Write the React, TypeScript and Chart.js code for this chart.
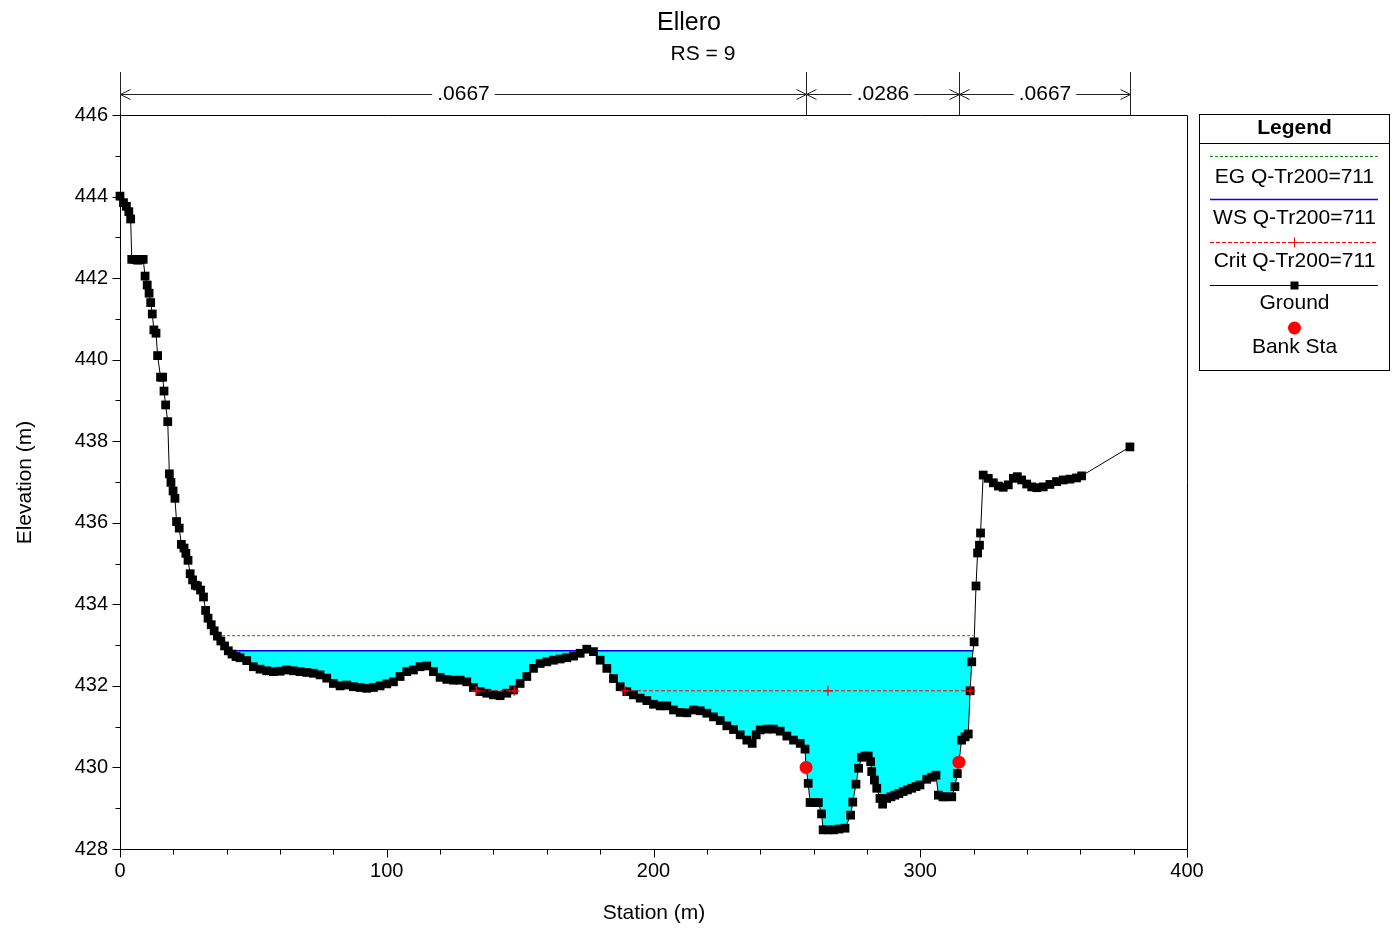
import React, { useEffect, useRef } from "react";
import { Chart, registerables } from "chart.js";

Chart.register(...registerables);

// ---------- data ----------
const groundStation = [
  0.0, 1.3, 2.4, 3.3, 4.0, 4.4, 5.6, 6.6, 7.6, 8.7, 9.4, 10.2, 10.9, 11.5, 12.1, 12.7, 13.5, 14.1, 15.2, 16.0,
  16.5, 17.1, 17.9, 18.5, 19.1, 19.9, 20.6, 21.2, 22.2, 23.0, 24.0, 24.7, 25.5, 26.3, 27.2, 28.2, 29.0, 30.2,
  31.3, 32.1, 33.0, 34.2, 35.3, 36.5, 37.8, 39.2, 40.6, 42.0, 43.5, 45.0, 47.5, 50.0, 52.5, 55.0, 57.5, 60.0,
  62.5, 65.0, 67.5, 70.0, 72.5, 75.0, 77.5, 80.0, 82.5, 85.0, 87.5, 90.0, 92.5, 95.0, 97.5, 100.0, 102.5,
  105.0, 107.5, 110.0, 112.5, 115.0, 117.5, 120.0, 122.5, 125.0, 127.5, 130.0, 132.5, 135.0, 137.5, 140.0,
  142.5, 145.0, 147.5, 150.0, 152.5, 155.0, 157.5, 160.0, 162.5, 165.0, 167.5, 170.0, 172.5, 175.0, 177.5,
  180.0, 182.5, 185.0, 187.5, 190.0, 192.5, 195.0, 197.5, 200.0, 202.5, 205.0, 207.5, 210.0, 212.5, 215.0,
  217.5, 220.0, 222.5, 225.0, 227.5, 230.0, 232.5, 235.0, 237.0, 238.5, 240.0, 242.5, 245.0, 247.5, 250.0,
  252.5, 255.0, 256.8, 257.2, 258.0, 258.7, 260.2, 261.8, 263.0, 263.6, 265.5, 267.5, 269.5, 271.8, 273.9,
  274.7, 275.9, 276.9, 278.0, 279.3, 280.5, 281.4, 281.8, 282.8, 283.7, 284.9, 285.9, 287.4, 289.0, 290.5,
  292.0, 293.6, 295.2, 296.8, 298.4, 299.9, 302.4, 304.2, 305.9, 306.8, 308.5, 309.3, 311.8, 313.0, 313.9,
  314.5, 315.5, 316.8, 318.0, 318.7, 319.3, 320.2, 320.9, 321.5, 322.2, 322.6, 323.6, 325.5, 327.4, 329.3,
  331.1, 333.0, 334.9, 336.4, 338.0, 339.9, 341.8, 343.7, 346.1, 348.6, 351.1, 353.6, 356.1, 358.6, 360.5,
  378.6,
];
const groundElev = [
  444.01, 443.85, 443.76, 443.63, 443.45, 442.46, 442.46, 442.44, 442.45, 442.46, 442.05, 441.83, 441.63,
  441.4, 441.12, 440.73, 440.65, 440.1, 439.57, 439.57, 439.23, 438.89, 438.48, 437.2, 436.99, 436.78, 436.6,
  436.03, 435.87, 435.47, 435.38, 435.25, 435.08, 434.75, 434.6, 434.47, 434.45, 434.35, 434.18, 433.85,
  433.66, 433.5, 433.35, 433.22, 433.1, 432.98, 432.86, 432.78, 432.72, 432.69, 432.62, 432.47, 432.41,
  432.37, 432.35, 432.36, 432.39, 432.37, 432.35, 432.33, 432.31, 432.27, 432.19, 432.06, 432.0, 432.02,
  431.98, 431.96, 431.94, 431.96, 432.0, 432.05, 432.1, 432.23, 432.35, 432.39, 432.47, 432.49, 432.35,
  432.21, 432.16, 432.14, 432.14, 432.1, 431.96, 431.86, 431.82, 431.78, 431.76, 431.82, 431.9, 432.06,
  432.23, 432.43, 432.55, 432.59, 432.63, 432.66, 432.69, 432.73, 432.8, 432.9, 432.84, 432.63, 432.43,
  432.18, 431.98, 431.86, 431.78, 431.7, 431.64, 431.55, 431.51, 431.51, 431.41, 431.35, 431.34, 431.41,
  431.39, 431.33, 431.24, 431.15, 431.02, 430.93, 430.8, 430.67, 430.59, 430.8, 430.92, 430.94, 430.94,
  430.89, 430.77, 430.67, 430.59, 430.45, 430.0, 429.61, 429.14, 429.14, 429.14, 428.86, 428.47, 428.47,
  428.47, 428.49, 428.51, 428.83, 429.15, 429.59, 429.98, 430.25, 430.28, 430.28, 430.14, 429.9, 429.69,
  429.49, 429.24, 429.1, 429.24, 429.28, 429.32, 429.36, 429.41, 429.45, 429.49, 429.53, 429.57, 429.71,
  429.76, 429.81, 429.32, 429.28, 429.28, 429.28, 429.53, 429.85, 430.13, 430.67, 430.75, 430.82, 431.88,
  432.59, 433.08, 434.45, 435.26, 435.45, 435.75, 437.17, 437.09, 436.98, 436.9, 436.87, 436.93, 437.09,
  437.13, 437.05, 436.95, 436.88, 436.86, 436.88, 436.94, 437.01, 437.05, 437.07, 437.1, 437.15, 437.86,
];
const bankStation = [257.2, 314.5];
const bankElev = [430.0, 430.13];
const wsElev = 432.86;
const wsStations = [40.6, 319.85];
const egElev = 433.23;
const egStations = [36.4, 319.9];
const critElev = 431.88;
const critStations: (number | null)[] = [133.5, 147.8, null, 189.3, 265.4, 318.7];
const nValues = [".0667", ".0286", ".0667"];
const nBreaks = [0, 257.2, 314.5, 378.6];
const legendLabels = ["EG Q-Tr200=711", "WS Q-Tr200=711", "Crit Q-Tr200=711", "Ground", "Bank Sta"];
const chartTitle = "Ellero";
const chartSubtitle = "RS = 9";
const xTitle = "Station (m)";
const yTitle = "Elevation (m)";
const xMin = 0, xMax = 400, xMajor = 100, xMinor = 20;
const yMin = 428, yMax = 446, yMajor = 2, yMinor = 1;

// ---------- styles ----------
const FONT = "'Liberation Sans', Arial, sans-serif";
const CYAN = "rgb(0,255,255)";
const BLUE = "rgb(0,0,255)";
const GREEN = "rgb(0,140,0)";
const RED = "rgb(255,0,0)";

const ground = groundStation.map((x, i) => ({ x, y: groundElev[i] }));
const water = [
  { x: wsStations[0], y: wsElev },
  ...ground.filter((p) => p.x > wsStations[0] && p.x < wsStations[1]).map((p) => ({ x: p.x, y: Math.min(p.y, wsElev) })),
  { x: wsStations[1], y: wsElev },
];

const overlayPlugin = {
  id: "overlay",
  afterDraw(chart: any) {
    const ctx: CanvasRenderingContext2D = chart.ctx;
    const { left, right, top, bottom } = chart.chartArea;
    const xs = chart.scales.x;
    const ys = chart.scales.y;
    const L = Math.round(left) + 0.5;
    const R = Math.round(right) + 0.5;
    const T = Math.round(top) + 0.5;
    const B = Math.round(bottom) + 0.5;
    const line = (x1: number, y1: number, x2: number, y2: number) => {
      ctx.beginPath();
      ctx.moveTo(x1, y1);
      ctx.lineTo(x2, y2);
      ctx.stroke();
    };
    ctx.save();
    ctx.strokeStyle = "#000";
    ctx.fillStyle = "#000";
    ctx.lineWidth = 1;
    ctx.setLineDash([]);
    // frame
    line(L, T, R, T);
    line(R, T, R, B);
    line(L, T, L, B);
    line(L, B, R, B);
    // y ticks
    for (let v = yMin; v <= yMax + 1e-6; v += yMinor) {
      const py = Math.round(ys.getPixelForValue(v)) + 0.5;
      const len = Math.abs(v % yMajor) < 1e-6 ? 8 : 5;
      line(L - len, py, L, py);
    }
    // x ticks
    for (let v = xMin; v <= xMax + 1e-6; v += xMinor) {
      const px = Math.round(xs.getPixelForValue(v)) + 0.5;
      const len = Math.abs(v % xMajor) < 1e-6 ? 8 : 5;
      line(px, B, px, B + len);
    }
    // titles
    ctx.textAlign = "center";
    ctx.textBaseline = "middle";
    ctx.font = `25px ${FONT}`;
    ctx.fillText(chartTitle, 689, 23);
    ctx.font = `21px ${FONT}`;
    ctx.fillText(chartSubtitle, 703, 54);
    ctx.fillText(xTitle, (L + R) / 2, 913);
    ctx.save();
    ctx.translate(25, (T + B) / 2);
    ctx.rotate(-Math.PI / 2);
    ctx.fillText(yTitle, 0, 0);
    ctx.restore();

    // roughness bar
    const ay = 94.5;
    const vTop = 72;
    ctx.strokeStyle = "#222";
    const bx = nBreaks.map((b) => Math.round(xs.getPixelForValue(b)) + 0.5);
    bx.forEach((x) => line(x, vTop, x, T));
    ctx.font = `21px ${FONT}`;
    for (let i = 0; i < nValues.length; i++) {
      const a = bx[i];
      const b = bx[i + 1];
      const mid = (a + b) / 2;
      const w = ctx.measureText(nValues[i]).width;
      ctx.fillText(nValues[i], mid, ay);
      line(a, ay, mid - w / 2 - 5, ay);
      line(mid + w / 2 + 5, ay, b, ay);
      line(a, ay, a + 10, ay - 5);
      line(a, ay, a + 10, ay + 5);
      line(b, ay, b - 10, ay - 5);
      line(b, ay, b - 10, ay + 5);
    }

    // legend
    const lx1 = 1199.5, lx2 = 1389.5, ly1 = 114.5, ly2 = 370.5;
    const cx = (lx1 + lx2) / 2;
    ctx.strokeStyle = "#000";
    ctx.lineWidth = 1;
    ctx.strokeRect(lx1, ly1, lx2 - lx1, ly2 - ly1);
    line(lx1, 143.5, lx2, 143.5);
    ctx.font = `bold 21px ${FONT}`;
    ctx.fillText("Legend", cx, 128);
    const sx1 = 1210, sx2 = 1378;
    ctx.strokeStyle = GREEN;
    ctx.setLineDash([3, 2]);
    line(sx1, 156.5, sx2, 156.5);
    ctx.strokeStyle = BLUE;
    ctx.setLineDash([]);
    ctx.lineWidth = 1.5;
    line(sx1, 199.5, sx2, 199.5);
    ctx.lineWidth = 1;
    ctx.strokeStyle = RED;
    ctx.setLineDash([4, 2]);
    line(sx1, 242.5, sx2, 242.5);
    ctx.setLineDash([]);
    line(cx - 5, 242.5, cx + 5, 242.5);
    line(cx, 237.5, cx, 247.5);
    ctx.strokeStyle = "#000";
    line(sx1, 285.5, sx2, 285.5);
    ctx.fillStyle = "#000";
    ctx.fillRect(cx - 4, 281.5, 8, 8);
    ctx.fillStyle = RED;
    ctx.beginPath();
    ctx.arc(cx, 328, 6.5, 0, Math.PI * 2);
    ctx.fill();
    ctx.fillStyle = "#000";
    ctx.font = `21px ${FONT}`;
    const ly = [177, 218.5, 261.5, 303.5, 347];
    legendLabels.forEach((t, i) => ctx.fillText(t, cx, ly[i]));
    ctx.restore();
  },
};

export default function App() {
  const ref = useRef<HTMLCanvasElement | null>(null);
  useEffect(() => {
    document.body.style.margin = "0";
    const canvas = ref.current!;
    const chart = new Chart(canvas, {
      type: "line",
      data: {
        datasets: [
          {
            label: "Bank Sta",
            data: bankStation.map((x, i) => ({ x, y: bankElev[i] })),
            showLine: false,
            pointStyle: "circle",
            pointRadius: 6.5,
            pointBackgroundColor: RED,
            pointBorderWidth: 0,
            order: 0,
            clip: false,
          },
          {
            label: "Crit",
            data: critStations.map((x) => (x === null ? { x: 160, y: null } : { x, y: critElev })),
            borderColor: RED,
            borderWidth: 1,
            borderDash: [4, 2],
            pointStyle: "cross",
            pointRadius: 5,
            pointBorderColor: RED,
            pointBorderWidth: 1.3,
            spanGaps: false,
            order: 1,
          },
          {
            label: "Ground",
            data: ground,
            borderColor: "#000",
            borderWidth: 1,
            pointStyle: "rect",
            pointRadius: 6.2,
            pointBackgroundColor: "#000",
            pointBorderWidth: 0,
            tension: 0,
            order: 2,
            clip: false,
          },
          {
            label: "WS",
            data: wsStations.map((x) => ({ x, y: wsElev })),
            borderColor: BLUE,
            borderWidth: 1.5,
            pointRadius: 0,
            order: 3,
          },
          {
            label: "EG",
            data: egStations.map((x) => ({ x, y: egElev })),
            borderColor: GREEN,
            borderWidth: 1,
            borderDash: [3, 2],
            pointRadius: 0,
            order: 4,
          },
          {
            label: "Water",
            data: water,
            borderWidth: 0,
            borderColor: "rgba(0,0,0,0)",
            backgroundColor: CYAN,
            fill: { value: wsElev },
            pointRadius: 0,
            order: 5,
          },
        ] as any,
      },
      options: {
        responsive: false,
        animation: false,
        events: [],
        layout: { padding: { left: 0, right: 211, top: 115, bottom: 0 } },
        plugins: {
          legend: { display: false },
          tooltip: { enabled: false },
          title: { display: false },
        },
        scales: {
          x: {
            type: "linear",
            min: xMin,
            max: xMax,
            grid: { display: false, drawTicks: false },
            border: { display: false },
            ticks: {
              stepSize: xMajor,
              color: "#000",
              font: { family: FONT, size: 20 },
              padding: 10,
              maxRotation: 0,
            },
            afterFit: (s: any) => {
              s.height = 81;
            },
          },
          y: {
            type: "linear",
            min: yMin,
            max: yMax,
            grid: { display: false, drawTicks: false },
            border: { display: false },
            ticks: {
              stepSize: yMajor,
              color: "#000",
              font: { family: FONT, size: 20 },
              padding: 12,
            },
            afterFit: (s: any) => {
              s.width = 120;
            },
          },
        },
      } as any,
      plugins: [overlayPlugin],
    });
    return () => chart.destroy();
  }, []);
  return (
    <div style={{ width: 1398, height: 930, position: "relative", background: "#fff" }}>
      <canvas ref={ref} width={1398} height={930} style={{ display: "block" }} />
    </div>
  );
}
